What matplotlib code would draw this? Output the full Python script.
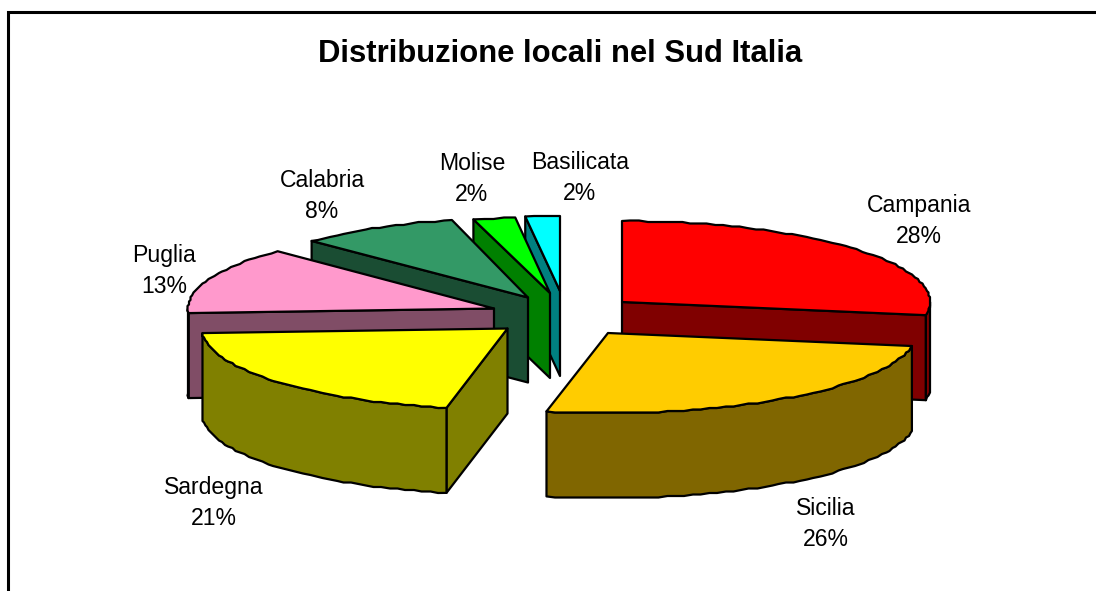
import numpy as np
import matplotlib
matplotlib.use("Agg")
import matplotlib.pyplot as plt
from matplotlib.patches import Polygon
from matplotlib.lines import Line2D

title = "Distribuzione locali nel Sud Italia"
regions = ["Campania", "Sicilia", "Sardegna", "Puglia", "Calabria", "Molise", "Basilicata"]
shares = [27.6, 25.6, 20.9, 13.4, 8.5, 2.2, 1.8]

# styles
top_colors = ["#FF0000", "#FFCC00", "#FFFF00", "#FF99CC", "#339966", "#00FF00", "#00FFFF"]
side_colors = ["#800000", "#806600", "#808000", "#804D66", "#1A4D33", "#008000", "#008080"]
apex_x = [622, 608, 507.5, 494, 528, 550, 560]
apex_y = [302, 333, 328.5, 308.5, 297.5, 293, 291]
radius_x = [308, 308, 305.5, 306, 306, 308, 308]
radius_y = [81, 80, 81, 81, 80, 76, 75]
label_x = [919, 826, 214, 164, 322, 472, 580]
label_y = [221, 524, 503, 271, 196, 179, 178]
draw_order = [6, 5, 4, 3, 2, 0, 1]
DEPTH = 85
GRID = 1.5
STEP_DEG = 1.6

plt.rcParams["font.family"] = ["Liberation Sans", "DejaVu Sans"]
fig = plt.figure(figsize=(10.96, 5.91), dpi=100, facecolor="white")
ax = fig.add_axes([0, 0, 1, 1])
ax.set_xlim(0, 1096)
ax.set_ylim(591, 0)
ax.axis("off")

ax.add_line(Line2D([8, 8, 1096], [591, 12, 12], color="black", lw=2.2, solid_joinstyle="miter"))

edges = np.concatenate([[0], np.cumsum(shares)]) / sum(shares) * 360.0


def rim(i, a0, a1, dz=0.0):
    n = max(int(abs(a1 - a0) / STEP_DEG) + 1, 2)
    t = np.radians(np.linspace(a0, a1, n))
    x = apex_x[i] + radius_x[i] * np.sin(t)
    y = apex_y[i] - radius_y[i] * np.cos(t)
    # coarse device steps along the curve, as in the low-resolution original
    xq = np.round(x / GRID) * GRID
    yq = np.round(y / GRID) * GRID
    xq[0], xq[-1], yq[0], yq[-1] = x[0], x[-1], y[0], y[-1]
    return xq, yq + dz


def face(xs, ys, color, z):
    ax.add_patch(Polygon(np.column_stack([xs, ys]), closed=True, facecolor=color,
                         edgecolor="black", lw=1.6, joinstyle="round", zorder=z))


for z, i in enumerate(draw_order):
    a0, a1 = edges[i], edges[i + 1]
    cx, cy = apex_x[i], apex_y[i]
    side = side_colors[i]
    base = 10 * z

    # visible radial walls
    for a, sign in ((a0, -1), (a1, 1)):
        if sign * np.sin(np.radians(a)) > 1e-6:
            px = cx + radius_x[i] * np.sin(np.radians(a))
            py = cy - radius_y[i] * np.cos(np.radians(a))
            face([cx, px, px, cx], [cy, py, py + DEPTH, cy + DEPTH], side, base + 1)

    # visible outer wall
    f0, f1 = max(a0, 90), min(a1, 270)
    if f1 > f0:
        xt, yt = rim(i, f0, f1)
        xb, yb = rim(i, f0, f1, DEPTH)
        face(np.r_[xt, xb[::-1]], np.r_[yt, yb[::-1]], side, base + 2)

    # top
    xt, yt = rim(i, a0, a1)
    face(np.r_[cx, xt], np.r_[cy, yt], top_colors[i], base + 3)

ax.text(560, 54, title, ha="center", va="center", fontsize=22.3, fontweight="bold",
        color="black", zorder=200)

for name, share, x, y in zip(regions, shares, label_x, label_y):
    ax.text(x, y, f"{name}\n{round(share)}%", ha="center", va="center", fontsize=16.6,
            linespacing=1.42, color="black", zorder=200)

fig.savefig("out.png", dpi=100, facecolor="white")
